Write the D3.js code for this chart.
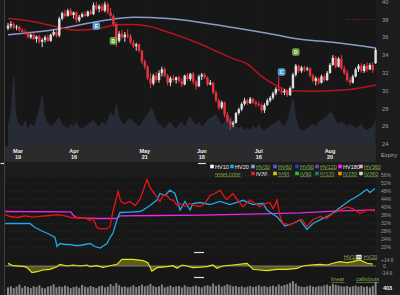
<!DOCTYPE html>
<html><head><meta charset="utf-8">
<script src="https://cdn.jsdelivr.net/npm/d3@7"></script>
<style>
html,body{margin:0;padding:0;background:#1c1c1c;overflow:hidden}
svg{display:block;font-family:"Liberation Sans",Arial,sans-serif}
</style></head><body>
<svg id="c" width="400" height="295"></svg>
<script>
// ---------- DATA ----------
// daily candles [open, high, low, close]
const ohlc = [
[37.0,37.6,36.8,37.3],[37.3,37.8,37.0,37.5],[37.5,37.7,36.9,37.1],[37.1,37.4,36.8,37.2],[37.2,37.3,36.6,36.8],
[36.8,37.0,36.4,36.6],[36.6,36.9,36.3,36.5],[36.5,36.7,35.9,36.0],[36.0,36.4,35.8,36.3],[36.3,36.5,35.7,35.8],
[35.8,36.2,35.4,36.1],[36.1,36.3,35.3,35.5],[35.5,35.9,34.9,35.7],[35.7,36.2,35.4,36.0],[36.0,36.3,35.5,35.6],
[35.6,36.4,35.5,36.3],[36.3,36.8,36.1,36.6],[36.6,36.9,36.0,36.2],[36.2,38.3,36.0,38.1],[38.1,38.9,37.9,38.7],
[38.7,39.1,38.2,38.4],[38.4,39.2,38.3,39.0],[39.0,39.3,38.4,38.5],[38.5,38.9,38.1,38.8],[38.8,38.9,37.6,37.9],
[37.9,38.5,37.7,38.3],[38.3,38.8,38.2,38.6],[38.6,38.9,38.3,38.4],[38.4,39.0,38.3,38.9],[38.9,39.1,38.5,38.6],
[38.6,39.9,38.5,39.6],[39.6,40.0,39.0,39.2],[39.2,39.7,38.8,39.5],[39.5,39.8,38.9,39.0],[39.0,40.0,38.8,39.7],
[39.7,39.9,38.6,38.8],[38.8,39.3,38.2,38.4],[38.4,38.6,37.2,37.5],[37.5,37.7,34.9,35.6],[35.6,36.7,35.4,36.4],
[36.4,36.8,35.8,36.0],[36.0,36.6,35.5,36.3],[36.3,36.9,35.9,36.1],[36.1,36.4,35.2,35.4],[35.4,35.7,34.8,35.0],
[35.0,35.4,34.5,35.2],[35.2,35.3,34.3,34.5],[34.5,34.6,33.0,33.3],[33.3,33.5,32.4,32.7],[32.7,32.9,31.2,31.4],
[31.4,32.0,30.3,30.8],[30.8,31.9,30.6,31.7],[31.7,32.1,31.0,31.2],[31.2,32.3,30.9,32.0],[32.0,32.7,31.6,32.4],
[32.4,32.6,31.5,31.7],[31.7,31.9,30.6,30.9],[30.9,31.6,30.5,31.4],[31.4,31.8,31.0,31.2],[31.2,31.6,30.8,31.5],
[31.5,31.7,30.9,31.1],[31.1,31.4,30.4,30.7],[30.7,31.8,30.6,31.7],[31.7,32.0,31.1,31.3],[31.3,32.0,31.1,31.9],
[31.9,32.1,30.7,31.0],[31.0,31.2,30.1,30.5],[30.5,31.8,30.4,31.6],[31.6,32.0,31.2,31.8],[31.8,32.0,31.3,31.5],
[31.5,31.6,30.5,30.7],[30.7,31.2,30.6,30.9],[30.9,31.0,29.6,29.8],[29.8,30.0,28.7,28.9],[28.9,29.1,27.8,28.1],
[28.1,28.9,27.9,28.7],[28.7,28.8,27.0,27.3],[27.3,27.6,26.4,26.6],[26.6,26.9,25.6,26.2],[26.2,26.6,25.9,26.4],
[26.4,27.6,26.3,27.5],[27.5,28.1,27.3,27.9],[27.9,28.7,27.7,28.5],[28.5,29.2,28.3,28.9],[28.9,29.1,28.4,28.6],
[28.6,29.3,28.5,29.1],[29.1,29.2,28.5,28.7],[28.7,28.9,28.2,28.5],[28.5,28.8,28.2,28.4],[28.4,28.6,27.5,27.8],
[27.8,28.6,27.5,28.4],[28.4,29.1,28.3,28.9],[28.9,29.4,28.7,29.2],[29.2,29.9,29.0,29.7],[29.7,30.4,29.5,30.2],
[30.2,31.6,29.9,30.0],[30.0,30.3,29.6,29.8],[29.8,30.2,29.5,30.0],[30.0,30.1,29.3,29.5],[29.5,30.5,29.4,30.3],
[30.3,32.0,30.2,31.8],[31.8,33.0,31.6,32.8],[32.8,32.9,32.0,32.2],[32.2,32.8,32.0,32.6],[32.6,32.8,32.1,32.4],
[32.4,32.7,32.2,32.5],[32.5,32.6,31.5,31.7],[31.7,31.9,30.9,31.1],[31.1,31.6,30.6,31.4],[31.4,31.5,30.7,30.9],
[30.9,31.8,30.8,31.6],[31.6,31.8,31.0,31.2],[31.2,32.2,31.1,32.0],[32.0,33.1,31.9,32.9],[32.9,34.0,32.8,33.7],
[33.7,33.9,32.5,32.7],[32.7,33.8,32.6,33.6],[33.6,34.0,32.3,32.5],[32.5,32.8,31.8,32.0],[32.0,32.3,31.0,31.2],
[31.2,31.5,30.6,30.9],[30.9,31.8,30.8,31.6],[31.6,32.6,31.5,32.4],[32.4,33.0,32.1,32.8],[32.8,33.1,32.0,32.2],
[32.2,33.0,32.0,32.8],[32.8,33.2,32.1,32.4],[32.4,33.1,32.3,32.9],[32.9,33.2,32.0,32.3],[33.1,34.8,33.0,34.6]
];
// stock volume (shaded area in price panel)
const stockVol = [22,35,70,30,22,20,25,18,22,20,28,38,50,30,24,20,22,26,28,22,20,18,22,20,24,19,18,20,22,24,
26,22,20,24,22,26,34,30,42,30,24,22,26,28,24,22,20,24,28,32,38,36,26,22,20,18,22,24,20,18,
22,24,20,26,30,24,22,24,20,22,26,28,30,32,26,22,24,28,30,24,20,18,20,16,18,16,20,18,22,18,
16,18,20,22,24,26,22,20,26,36,48,30,20,16,16,18,20,22,20,24,26,28,30,34,32,26,22,24,22,20,
22,20,18,20,22,18,16,18,20,28];
// option volume bars (bottom)
const optVol = [220,250,200,240,300,210,260,230,200,250,230,280,210,190,240,260,310,220,250,230,
270,240,200,230,250,210,290,240,220,260,230,200,250,270,220,240,310,260,340,280,
230,250,220,240,280,230,260,300,250,270,320,260,230,250,300,220,240,270,230,250,
260,220,280,240,230,250,270,240,220,260,280,250,330,260,300,240,270,310,280,250,
260,230,250,220,240,260,230,250,280,240,260,230,250,270,240,300,260,290,310,350,
400,330,260,240,230,250,270,240,230,260,250,280,300,260,320,290,270,250,240,260,
230,250,270,240,260,230,250,220,260,380];
// moving averages (index, price)
const maLongIdx = [0,15,32,44,56,67,79,91,102,114,129];
const maLongVal = [36.3,36.8,37.8,38.25,38.1,37.7,37.1,36.45,35.8,35.45,34.8];
const maShortIdx = [0,9,17,24,32,38,44,50,56,61,67,72,79,84,89,95,99,107,119,125,129];
const maShortVal = [38.1,37.75,37.2,36.8,37.0,37.4,37.45,37.2,36.6,36.05,35.3,34.6,33.6,33.0,31.6,30.45,30.0,29.95,30.1,30.4,30.65];
// event markers
const evIdx = [31,37,96,101];
const evLetter = ["E","D","C","D"];
const evPrice = [37.27,35.6,32.1,34.35];
// date ticks
const tickIdx = [3.5,23.2,48,68,88,113];
const tickMonth = ["Mar","Apr","May","Jun","Jul","Aug"];
const tickDay = ["19","16","21","18","16","20"];
const priceTicks = [40,38,36,34,32,30,28,26,24];
const ivTicks = [56,52,48,44,40,36,32,28,24,20];
// volatility series (index, %)
const iv30Idx = [-1,0.7,3.2,6,8.8,11.2,14.7,17.5,20,22.5,25.3,27,28.8,29.8,31.2,32.3,34.7,35.8,36.8,37.9,38.6,39.6,41,42.8,44.6,46.3,48.8,49.8,50.5,52.3,53.3,54.4,55.8,56.8,57.9,59.3,60.4,62.1,63.9,65.6,67.4,69.1,70.9,72.6,74.4,76.1,76.8,78.9,80.4,82.5,84.9,86.7,88.4,90.2,91.9,93,94.4,95.4,96.5,98.9,101.4,103.2,104.9,107,109.5,111.9,114,116.5,118.9,121,123.5,126,128,128.8];
const iv30Val = [36.5,35.5,35.0,35.8,35.2,35.6,36.0,36.4,35.8,34.8,35.0,34.8,33.5,34.8,30.0,29.3,29.3,30.5,38,44,48,43,42,43,41,44,54,50,48.7,45,43,46,46,44,43.7,41,42,40.5,42,41,40.5,42,46,47,48.7,45,44,47,44,40.4,43.7,42,40.4,42,42.5,39.5,43.7,36,32,31.3,33,34,30.5,34,35.4,34.6,37,38.7,40.3,39.5,37,38.7,38.5,38.3];
const hv20Idx = [-1,7.7,9.5,12.3,14.7,16.5,17.2,18.2,20,21.8,23.5,25.3,27,28.8,30.5,32.3,33.7,34.7,35.8,36.8,38.2,39.3,42.8,46.3,47.4,49.8,52.3,53.3,55.1,56.8,58.6,60.4,62.1,63.9,64.9,67.4,70.9,74.4,77.9,82.5,86,89.5,90.9,92.6,94.4,97.2,100,102.5,104.9,107,109.5,111.9,113.7,115.4,117.5,120,121.8,123.5,125.3,126,127,128.8];
const hv20Val = [32,32,30,28,26.5,25,20.5,22,21.5,21.5,21,21,21.5,22,20.5,19.7,21,22,25,27,33.7,37.5,37.7,38,38.7,41,43.7,47,46,48.7,47,38.7,43,38.7,42,42.5,41.5,43,41.5,43.6,41.5,42,38.7,37,35.4,30.8,32,33.8,29,32,33.8,35.4,37,38.7,41,43.6,45,46.5,48.5,49,47.5,49.5];
const hv180Idx = [-1,22,23,24.3,32,38.2,39.3,53,67.4,85,102.5,116.5,128.8];
const hv180Val = [38,37.8,36,34.8,34.5,34.5,35.8,36.0,36.2,36.7,37.3,38.3,38.8];
// HV10 minus HV20 spread
const spreadIdx = [0,1.8,6,7,8.4,10.2,12.3,14.7,17.2,18.2,20.7,22.8,25.3,27.7,28.8,31.2,33.3,35.8,38.2,40,43.9,47.4,49.1,50.5,52.3,55.8,57.9,59.3,61.1,62.8,64.9,67.4,69.8,71.9,73.3,75.4,78.9,83.9,86,88.4,90.9,94.4,97.9,101.4,103.5,106,109.5,111.9,114,116.5,118.9,121,123.5,126,128];
const spreadVal = [6.6,0.7,-1.7,-5.6,-16,-13.9,-9.7,-8,-1.7,4.1,0,2.4,0,2.4,-1.7,0.7,-3.2,0.7,4.1,16.3,16.3,12.9,8,-12.2,-4.1,-1.7,0.7,-5.6,2.4,0,-4.1,-3,-1.7,2.4,-5.6,0,2.4,6.6,-8,-9.7,-11.4,-8,-8,-5.6,0,2.4,4.1,2.4,6.6,10.5,8,10.5,14.6,6.6,4.9];
// legend
const legRow1 = ["HV10","HV20","HV30","HV60","HV90","HV120","HV180","HV360"];
const legRow1Col = ["#ffffff","#1fa9e6","#8e9fd0","#4a62d8","#2a3acc","#6a4aa8","#ff22ff","#e0a8c8"];
const legRow1X = [212,232,253,275,297,317,340,361];
const legRow1On = [true,true,false,false,false,false,true,false];
const legRow2 = ["IV30","IV60","IV90","IV120","IV150","IV360"];
const legRow2Col = ["#ff1a1a","#d8c800","#22d022","#1e8060","#ff8a00","#d8d8a8"];
const legRow2X = [253,275,297,317,340,361];
const legRow2On = [true,false,false,false,false,false];

// ---------- DRAW ----------
const svg = d3.select("#c");
const PL = 5, PR = 376;
const x = d3.scaleLinear().domain([0,129]).range([8,375.6]);
const yP = d3.scaleLinear().domain([24,40]).range([144.1,1.7]);
const yV = d3.scaleLinear().domain([0,80]).range([146,66]);
const yIV = d3.scaleLinear().domain([20,56]).range([247.5,175.5]);
const yS = d3.scaleLinear().domain([-14.6,14.6]).range([272,260]);
const yB = d3.scaleLinear().domain([0,403]).range([295,281]);
const green = "#7fae4a";

svg.append("rect").attr("width",400).attr("height",295).attr("fill","#1c1c1c");
// price panel
svg.append("rect").attr("x",PL).attr("y",0).attr("width",PR-PL).attr("height",146).attr("fill","#171717");
// date band
svg.append("rect").attr("x",PL).attr("y",146).attr("width",PR-PL).attr("height",16).attr("fill","#2b2b2b");
// iv panel
svg.append("rect").attr("x",PL).attr("y",178).attr("width",PR-PL).attr("height",74).attr("fill","#171717");
svg.append("rect").attr("x",PL).attr("y",253).attr("width",PR-PL).attr("height",42).attr("fill","#171717");
// left border
svg.append("line").attr("x1",4.5).attr("x2",4.5).attr("y1",0).attr("y2",295).attr("stroke","#3e3e3e");

// vertical faint grid
svg.append("g").selectAll("line").data(tickIdx).join("line")
  .attr("x1",d=>x(d)).attr("x2",d=>x(d)).attr("y1",0).attr("y2",146)
  .attr("stroke","#222").attr("stroke-dasharray","1,2");

// stock volume area
svg.append("path").datum(stockVol)
  .attr("d", d3.area().x((d,i)=>x(i)).y0(146).y1(d=>yV(d)).curve(d3.curveMonotoneX))
  .attr("fill","#272b36");

// dashed level line at 38
svg.append("line").attr("x1",346).attr("x2",375).attr("y1",yP(38)).attr("y2",yP(38))
  .attr("stroke","#5a1c1c").attr("stroke-dasharray","2,1");

// moving averages
const maLine = d3.line().x(d=>x(d[0])).y(d=>yP(d[1])).curve(d3.curveMonotoneX);
svg.append("path").datum(maLongIdx.map((d,i)=>[d,maLongVal[i]]))
  .attr("d",maLine).attr("fill","none").attr("stroke","#8b9ccc").attr("stroke-width",1.5);
svg.append("path").datum(maShortIdx.map((d,i)=>[d,maShortVal[i]]))
  .attr("d",maLine).attr("fill","none").attr("stroke","#b3141e").attr("stroke-width",1.5);

// candles
const cg = svg.append("g");
ohlc.forEach((d,i)=>{
  const up = d[3] >= d[0];
  const col = up ? "#dedede" : "#e8333f";
  cg.append("line").attr("x1",x(i)).attr("x2",x(i)).attr("y1",yP(d[1])).attr("y2",yP(d[2]))
    .attr("stroke",col).attr("stroke-width",1);
  const top = yP(Math.max(d[0],d[3])), bot = yP(Math.min(d[0],d[3]));
  cg.append("rect").attr("x",x(i)-1.2).attr("width",2.4).attr("y",top)
    .attr("height",Math.max(1,bot-top)).attr("fill",col);
});

// event markers
evIdx.forEach((d,i)=>{
  const isD = evLetter[i]==="D";
  const g = svg.append("g").attr("transform",`translate(${x(d)},${yP(evPrice[i])})`);
  g.append("rect").attr("x",-3.3).attr("y",-3.3).attr("width",6.6).attr("height",6.6).attr("rx",1.2)
    .attr("fill",isD?"#5e9a2c":"#3d9ad6").attr("stroke",isD?"#9fd060":"#8cd0ff").attr("stroke-width",0.6);
  g.append("text").attr("y",1.8).attr("text-anchor","middle").attr("font-size",5).attr("font-weight","bold")
    .attr("fill","#fff").text(evLetter[i]);
});

// price axis labels
svg.append("g").selectAll("text").data(priceTicks).join("text")
  .attr("x",382).attr("y",d=>yP(d)+2).attr("font-size",5.8).attr("fill","#9a9a9a").text(d=>d);
svg.append("text").attr("x",381).attr("y",156.5).attr("font-size",5.8).attr("fill","#a8a8a8").text("Expiry");

// date labels
tickIdx.forEach((d,i)=>{
  svg.append("text").attr("x",x(d)).attr("y",152.5).attr("text-anchor","middle").attr("font-size",5.5)
    .attr("font-weight","bold").attr("fill","#eee").text(tickMonth[i]);
  svg.append("text").attr("x",x(d)).attr("y",159).attr("text-anchor","middle").attr("font-size",5.5)
    .attr("font-weight","bold").attr("fill","#eee").text(tickDay[i]);
});

// small splitter dashes
[[0.5,4,163.5],[198,206,163.5],[194,204,252.5],[194,204,277.5]].forEach(d=>{
  svg.append("line").attr("x1",d[0]).attr("x2",d[1]).attr("y1",d[2]).attr("y2",d[2])
    .attr("stroke","#ddd").attr("stroke-width",1.2);
});

// legend
const lg = svg.append("g").attr("font-size",5.5);
legRow1.forEach((n,i)=>{
  lg.append("rect").attr("x",legRow1X[i]-1.8).attr("y",164.7).attr("width",3.6).attr("height",3.6).attr("fill",legRow1Col[i]);
  lg.append("text").attr("x",legRow1X[i]+3).attr("y",168.5).attr("fill",legRow1On[i]?"#f0f0f0":green)
    .style("text-decoration",legRow1On[i]?"none":"underline").text(n);
});
lg.append("text").attr("x",215).attr("y",175.5).attr("fill",green).style("text-decoration","underline").text("reset color");
legRow2.forEach((n,i)=>{
  lg.append("rect").attr("x",legRow2X[i]-1.8).attr("y",171.7).attr("width",3.6).attr("height",3.6).attr("fill",legRow2Col[i]);
  lg.append("text").attr("x",legRow2X[i]+3).attr("y",175.5).attr("fill",legRow2On[i]?"#f0f0f0":green)
    .style("text-decoration",legRow2On[i]?"none":"underline").text(n);
});

// IV panel grid + labels
svg.append("g").selectAll("line").data(ivTicks).join("line")
  .attr("x1",PL).attr("x2",PR).attr("y1",d=>yIV(d)).attr("y2",d=>yIV(d))
  .attr("stroke","#262626").attr("stroke-dasharray","1,2");
svg.append("g").selectAll("text").data(ivTicks).join("text")
  .attr("x",381).attr("y",d=>yIV(d)+1.8).attr("font-size",5).attr("fill","#9a9a9a").text(d=>d+"%");

svg.append("clipPath").attr("id","ivclip").append("rect").attr("x",PL).attr("y",176).attr("width",PR-PL).attr("height",76);
const ivg = svg.append("g").attr("clip-path","url(#ivclip)");
const ivLine = d3.line().x(d=>x(d[0])).y(d=>yIV(d[1]));
ivg.append("path").datum(hv180Idx.map((d,i)=>[d,hv180Val[i]])).attr("d",ivLine)
  .attr("fill","none").attr("stroke","#e62ae6").attr("stroke-width",1.4);
ivg.append("path").datum(hv20Idx.map((d,i)=>[d,hv20Val[i]])).attr("d",ivLine)
  .attr("fill","none").attr("stroke","#1fa9e6").attr("stroke-width",1.3);
ivg.append("path").datum(iv30Idx.map((d,i)=>[d,iv30Val[i]])).attr("d",ivLine)
  .attr("fill","none").attr("stroke","#e81414").attr("stroke-width",1.3);

// spread panel
const sp = spreadIdx.map((d,i)=>[d,spreadVal[i]]);
svg.append("path").datum(sp)
  .attr("d",d3.area().x(d=>x(d[0])).y0(yS(0)).y1(d=>yS(d[1])))
  .attr("fill","#5e5e1c");
svg.append("line").attr("x1",PL).attr("x2",PR).attr("y1",yS(0)).attr("y2",yS(0))
  .attr("stroke","#8a8a8a").attr("stroke-width",0.8);
svg.append("path").datum(sp)
  .attr("d",d3.line().x(d=>x(d[0])).y(d=>yS(d[1])))
  .attr("fill","none").attr("stroke","#e4e41e").attr("stroke-width",1.2);
svg.append("text").attr("x",381).attr("y",yS(14.6)+1.5).attr("font-size",5).attr("fill","#9a9a9a").text("+14.6");
svg.append("text").attr("x",383).attr("y",yS(0)+1.8).attr("font-size",5).attr("fill","#9a9a9a").text("0");
svg.append("text").attr("x",381).attr("y",yS(-14.6)+2.5).attr("font-size",5).attr("fill","#9a9a9a").text("-14.6");
const sl = svg.append("g").attr("font-size",5.5);
sl.append("text").attr("x",344).attr("y",258.5).attr("fill",green).style("text-decoration","underline").text("HV10");
sl.append("rect").attr("x",356.3).attr("y",254.8).attr("width",5.4).attr("height",4.5).attr("fill","#e8e8e8");
sl.append("text").attr("x",357).attr("y",258.3).attr("font-size",4).attr("fill","#222").text("vs");
sl.append("text").attr("x",363.5).attr("y",258.5).attr("fill",green).style("text-decoration","underline").text("HV20");

// option volume bars
svg.append("g").selectAll("rect").data(optVol).join("rect")
  .attr("x",(d,i)=>x(i)-1).attr("width",2).attr("y",d=>yB(d)).attr("height",d=>295-yB(d))
  .attr("fill","#858585");
sl.append("text").attr("x",331).attr("y",281).attr("fill",green).style("text-decoration","underline").text("linear");
sl.append("text").attr("x",356).attr("y",281).attr("fill",green).style("text-decoration","underline").text("calls/puts");
svg.append("text").attr("x",383).attr("y",289.5).attr("font-size",5.5).attr("font-weight","bold").attr("fill","#f2f2f2").text("403");
</script>
</body></html>
